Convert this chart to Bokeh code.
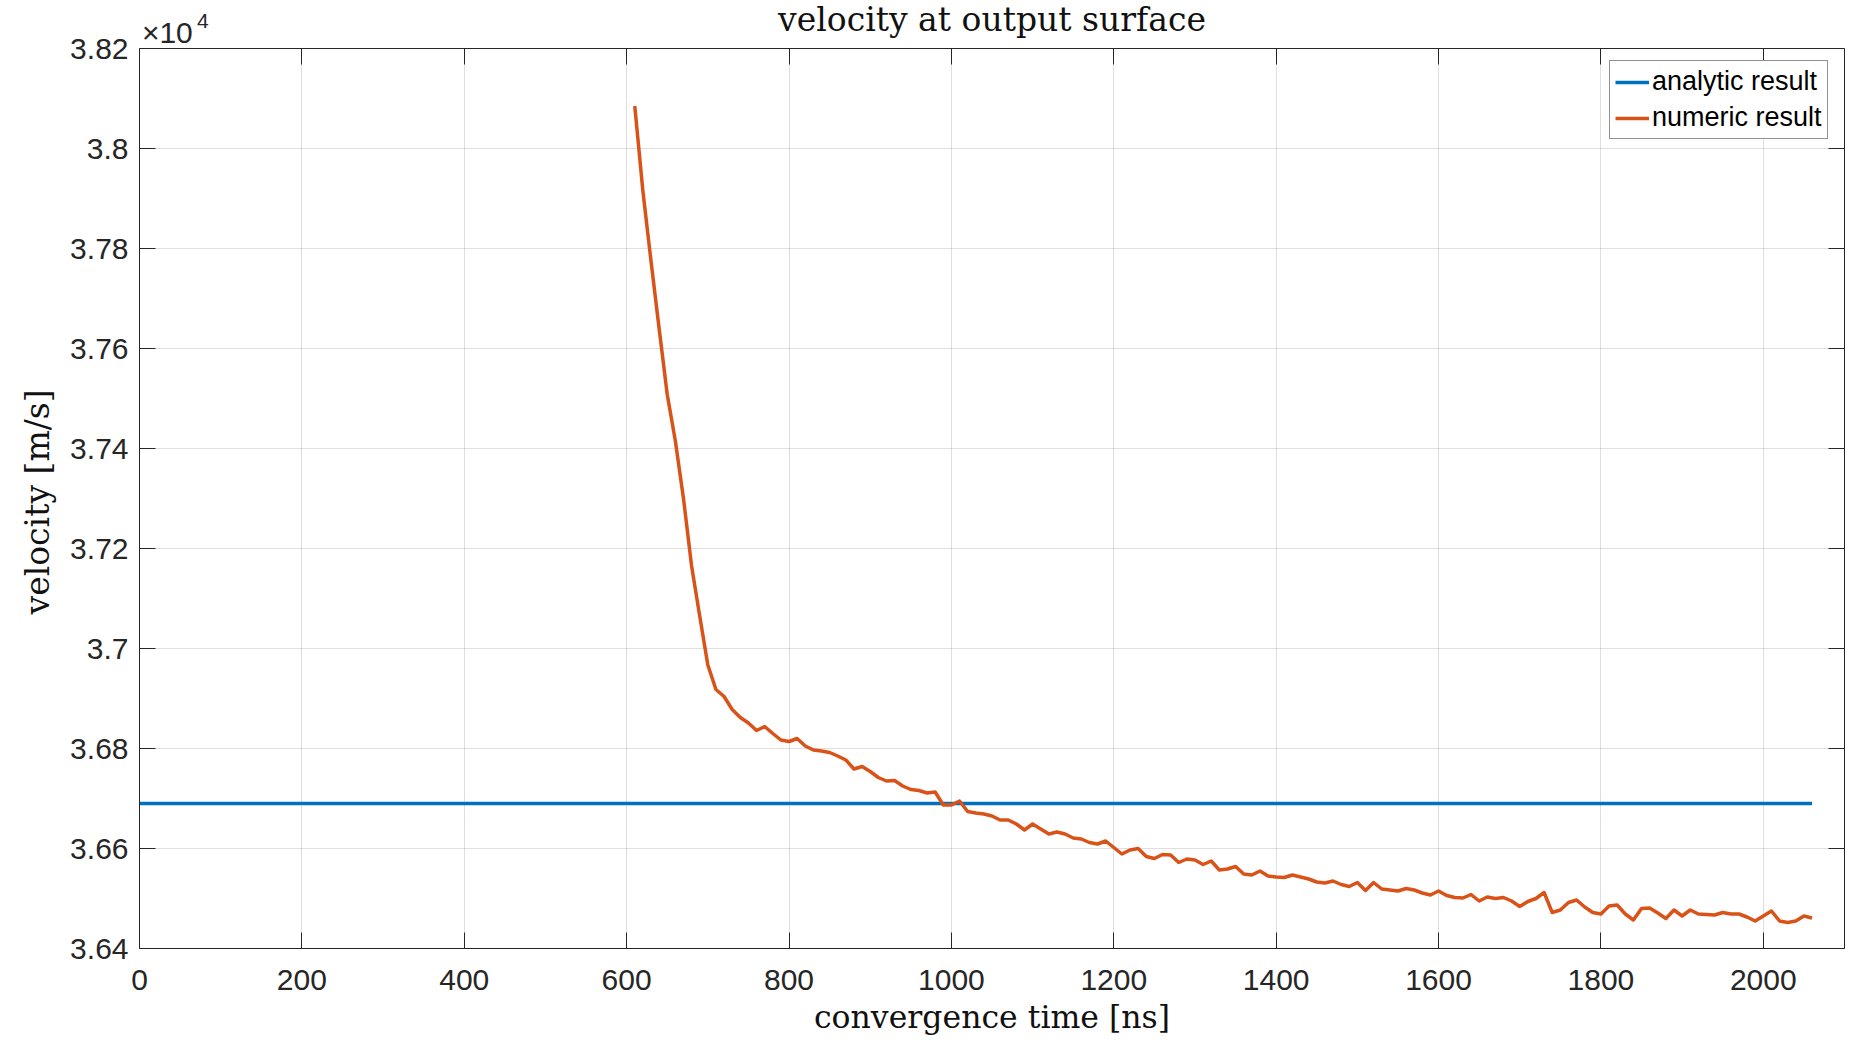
from bokeh.plotting import figure
from bokeh.models import FixedTicker, LinearAxis, Range1d, Title, Label, Grid, BoxAnnotation
from bokeh.embed import file_html
from bokeh.resources import INLINE

TIME_NS = [610, 620, 630, 640, 650, 660, 670, 680, 690, 700,
           710, 720, 730, 740, 750, 760, 770, 780, 790, 800,
           810, 820, 830, 840, 850, 860, 870, 880, 890, 900,
           910, 920, 930, 940, 950, 960, 970, 980, 990, 1000,
           1010, 1020, 1030, 1040, 1050, 1060, 1070, 1080, 1090, 1100,
           1110, 1120, 1130, 1140, 1150, 1160, 1170, 1180, 1190, 1200,
           1210, 1220, 1230, 1240, 1250, 1260, 1270, 1280, 1290, 1300,
           1310, 1320, 1330, 1340, 1350, 1360, 1370, 1380, 1390, 1400,
           1410, 1420, 1430, 1440, 1450, 1460, 1470, 1480, 1490, 1500,
           1510, 1520, 1530, 1540, 1550, 1560, 1570, 1580, 1590, 1600,
           1610, 1620, 1630, 1640, 1650, 1660, 1670, 1680, 1690, 1700,
           1710, 1720, 1730, 1740, 1750, 1760, 1770, 1780, 1790, 1800,
           1810, 1820, 1830, 1840, 1850, 1860, 1870, 1880, 1890, 1900,
           1910, 1920, 1930, 1940, 1950, 1960, 1970, 1980, 1990, 2000,
           2010, 2020, 2030, 2040, 2050, 2060]

NUMERIC_V = [38085, 37915, 37775, 37640, 37508, 37415, 37300, 37165, 37065, 36967,
             36918, 36904, 36878, 36862, 36851, 36836, 36844, 36830, 36817, 36814,
             36820, 36805, 36797, 36795, 36792, 36785, 36777, 36759, 36764, 36754,
             36742, 36735, 36736, 36725, 36718, 36716, 36711, 36713, 36687, 36687,
             36695, 36674, 36671, 36669, 36665, 36657, 36657, 36649, 36637, 36649,
             36639, 36629, 36633, 36629, 36621, 36619, 36612, 36609, 36615, 36602,
             36589, 36597, 36600, 36584, 36580, 36588, 36587, 36572, 36579, 36577,
             36568, 36575, 36557, 36559, 36564, 36549, 36547, 36555, 36545, 36543,
             36542, 36547, 36543, 36539, 36533, 36531, 36535, 36528, 36524, 36532,
             36516, 36532, 36519, 36517, 36515, 36520, 36517, 36511, 36507, 36515,
             36506, 36502, 36501, 36508, 36495, 36503, 36500, 36502, 36495, 36484,
             36494, 36500, 36512, 36472, 36477, 36492, 36497, 36483, 36472, 36469,
             36485, 36487, 36469, 36457, 36480, 36481, 36471, 36460, 36477, 36465,
             36477, 36469, 36468, 36467, 36472, 36469, 36469, 36463, 36455, 36465,
             36475, 36455, 36452, 36455, 36465, 36461]

ANALYTIC_T = [0, 2060]
ANALYTIC_V = [36690, 36690]

X_MIN, X_MAX = 0, 2100
Y_MIN, Y_MAX = 36400, 38200
X_TICKS = [0, 200, 400, 600, 800, 1000, 1200, 1400, 1600, 1800, 2000]
Y_TICKS = [36400, 36600, 36800, 37000, 37200, 37400, 37600, 37800, 38000, 38200]
Y_TICK_LABELS = ["3.64", "3.66", "3.68", "3.7", "3.72", "3.74", "3.76", "3.78", "3.8", "3.82"]
EXP_BASE = "\u00d710"
EXP_POWER = "4"
TITLE = "velocity at output surface"
X_LABEL = "convergence time [ns]"
Y_LABEL = "velocity [m/s]"

AX = "#262626"
SANS = "Liberation Sans"
SERIF = "DejaVu Serif"

W, H = 1853, 1042
BOTTOM = 94
FRAME_H = H - BOTTOM
BOX_PX = 900  # pixel height of the axes box
y_top = Y_MIN + FRAME_H * (Y_MAX - Y_MIN) / BOX_PX  # frame reaches to canvas top

p = figure(width=W, height=H, output_backend="svg", toolbar_location=None, title=None,
           x_range=Range1d(X_MIN, X_MAX), y_range=Range1d(Y_MIN, y_top),
           min_border_left=139, min_border_right=9, min_border_top=0, min_border_bottom=BOTTOM)

p.outline_line_color = None
p.background_fill_color = "white"
p.border_fill_color = "white"

p.line(ANALYTIC_T, ANALYTIC_V, line_color="#0072BD", line_width=3.5, legend_label="analytic result")
p.line(TIME_NS, NUMERIC_V, line_color="#D95319", line_width=3.5, line_join="round",
       legend_label="numeric result")

overrides = {t: s for t, s in zip(Y_TICKS, Y_TICK_LABELS)}

bx = p.below[0]
bx.ticker = FixedTicker(ticks=X_TICKS)
bx.axis_label = X_LABEL
ly = p.left[0]
ly.ticker = FixedTicker(ticks=Y_TICKS)
ly.major_label_overrides = overrides
ly.bounds = (Y_MIN, Y_MAX)

top = LinearAxis(ticker=FixedTicker(ticks=X_TICKS), fixed_location=Y_MAX,
                 major_label_text_font_size="0px", major_label_text_color=None,
                 major_label_standoff=0, axis_label_standoff=0)
right = LinearAxis(ticker=FixedTicker(ticks=Y_TICKS), bounds=(Y_MIN, Y_MAX),
                   major_label_text_font_size="0px", major_label_text_color=None,
                   major_label_standoff=0, axis_label_standoff=0)
p.add_layout(top, "above")
p.add_layout(right, "right")

for ax in p.axis:
    ax.major_tick_in = 16
    ax.major_tick_out = 0
    ax.minor_tick_line_color = None
    ax.axis_line_color = AX
    ax.major_tick_line_color = AX
    ax.major_label_text_font = SANS
    ax.axis_label_text_font = SERIF
    ax.axis_label_text_font_style = "normal"
    ax.axis_label_text_color = "#111111"

bx.major_label_text_font_size = "30px"
bx.major_label_text_color = AX
bx.major_label_standoff = 21
bx.axis_label_text_font_size = "31.5px"
bx.axis_label_standoff = 6
ly.major_label_text_font_size = "30px"
ly.major_label_text_color = AX
ly.major_label_standoff = 11

# y label as a side title so it can be centred on the axes box
ylab = Title(text=Y_LABEL, align="left", offset=334, vertical_align="bottom", standoff=22,
             text_font=SERIF, text_font_size="33px", text_font_style="normal",
             text_color="#111111")
p.add_layout(ylab, "left")

p.grid.grid_line_color = AX
p.grid.grid_line_alpha = 0.15
p.xgrid.ticker = FixedTicker(ticks=X_TICKS)
p.ygrid.ticker = FixedTicker(ticks=Y_TICKS)
if "cross_bounds" in Grid.properties():
    p.xgrid.cross_bounds = (Y_MIN, Y_MAX)
else:
    p.add_layout(BoxAnnotation(bottom=Y_MAX + 1, fill_color="white", fill_alpha=1.0,
                               line_color=None, level="underlay"))

p.add_layout(Label(x=(X_MIN + X_MAX) / 2, y=Y_MAX, y_offset=29.5, text=TITLE,
                   text_font=SERIF, text_font_size="33px", text_color="#111111",
                   text_align="center", text_baseline="alphabetic"))
p.add_layout(Label(x=X_MIN, y=Y_MAX, x_offset=2.4, y_offset=15.6, text=EXP_BASE,
                   text_font=SANS, text_font_size="30px", text_color=AX,
                   text_align="left", text_baseline="alphabetic"))
p.add_layout(Label(x=X_MIN, y=Y_MAX, x_offset=57.4, y_offset=27.3, text=EXP_POWER,
                   text_font=SANS, text_font_size="21px", text_color=AX,
                   text_align="left", text_baseline="alphabetic"))

lg = p.legend[0]
lg.location = (1470, 809)
lg.margin = 0
lg.padding = 5
lg.spacing = 5
lg.glyph_width = 34
lg.glyph_height = 20
lg.label_standoff = 3
lg.label_text_font = SANS
lg.label_text_font_size = "27px"
lg.label_text_color = "#000000"
lg.border_line_color = AX
lg.border_line_width = 1
lg.background_fill_color = "white"
lg.background_fill_alpha = 1.0

open("out.html", "w").write(file_html(p, INLINE))
